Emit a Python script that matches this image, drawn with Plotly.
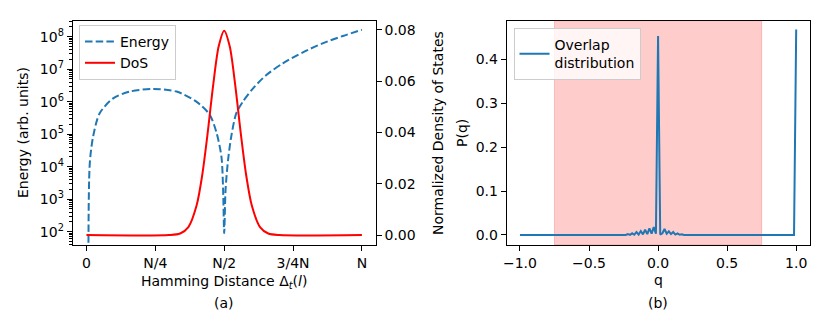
import plotly.graph_objects as go

# ---------------- data: panel (a) ----------------
tick_pos_a = [0, 0.25, 0.5, 0.75, 1.0]
tick_text_a = ["0", "N/4", "N/2", "3/4N", "N"]

energy_x = [0.007, 0.012, 0.024, 0.048, 0.097, 0.157, 0.242, 0.327, 0.399, 0.447,
            0.472, 0.490, 0.496, 0.500, 0.505, 0.514, 0.526, 0.544, 0.568, 0.605,
            0.653, 0.713, 0.786, 0.859, 0.931, 1.000]
energy_y = [1.0e1, 1.26e4, 8.3e4, 4.4e5, 1.26e6, 2.04e6, 2.45e6, 2.04e6, 1.0e6, 4.0e5,
            1.12e5, 2.0e4, 2.0e3, 9.0e1, 2.0e3, 1.6e4, 8.9e4, 4.4e5, 1.0e6, 2.57e6,
            6.6e6, 1.51e7, 3.3e7, 6.3e7, 1.05e8, 1.62e8]

dos_x = [0.0, 0.30, 0.34, 0.37, 0.40, 0.42, 0.44, 0.46, 0.48, 0.50,
         0.52, 0.54, 0.56, 0.58, 0.60, 0.63, 0.66, 0.70, 1.0]
dos_y = [0.0, 0.0, 0.0006, 0.0031, 0.0116, 0.0232, 0.0398, 0.0585, 0.0736, 0.0797,
         0.0736, 0.0585, 0.0398, 0.0232, 0.0116, 0.0031, 0.0006, 0.0, 0.0]

energy_ticks = [1e2, 1e3, 1e4, 1e5, 1e6, 1e7, 1e8]
energy_tick_text = ["10<sup>2</sup>", "10<sup>3</sup>", "10<sup>4</sup>", "10<sup>5</sup>",
                    "10<sup>6</sup>", "10<sup>7</sup>", "10<sup>8</sup>"]
dos_ticks = [0.0, 0.02, 0.04, 0.06, 0.08]
dos_tick_text = ["0.00", "0.02", "0.04", "0.06", "0.08"]

# ---------------- data: panel (b) ----------------
q_vals = [-1.0, -0.2656, -0.25, -0.2344, -0.2188, -0.2031, -0.1875, -0.1719, -0.1563,
          -0.1406, -0.125, -0.1094, -0.0938, -0.0781, -0.0625, -0.0469, -0.0313, -0.0156,
          0.0, 0.0156, 0.0313, 0.0469, 0.0625, 0.0781, 0.0938, 0.1094, 0.125, 0.1406,
          0.1563, 0.1719, 0.1875, 0.2031, 0.2188, 0.9844, 1.0]
p_vals = [0.0, 0.0, 0.0008, 0.0, 0.0022, 0.0003, 0.0038, 0.0006, 0.0068,
          0.001, 0.009, 0.0015, 0.012, 0.002, 0.015, 0.003, 0.018, 0.003,
          0.453, 0.001, 0.004, 0.0137, 0.003, 0.0084, 0.002, 0.0068, 0.001, 0.0038,
          0.0005, 0.0018, 0.0, 0.0006, 0.0, 0.0, 0.468]
shade_range = [-0.75, 0.75]
q_ticks = [-1.0, -0.5, 0.0, 0.5, 1.0]
q_tick_text = ["\u22121.0", "\u22120.5", "0.0", "0.5", "1.0"]
p_ticks = [0.0, 0.1, 0.2, 0.3, 0.4]
p_tick_text = ["0.0", "0.1", "0.2", "0.3", "0.4"]

# ---------------- layout constants ----------------
W, H = 830, 322
FONT = "DejaVu Sans"
FS = 14
BLUE = "#1f77b4"

def px_x(p):
    return p / W

def px_y(p):
    return 1 - p / H

fig = go.Figure()

fig.add_trace(go.Scatter(
    x=energy_x, y=energy_y, mode="lines", name="Energy",
    line=dict(color=BLUE, width=2, dash="7.5px,3.2px", shape="spline", smoothing=0.8),
    xaxis="x", yaxis="y", legend="legend"))
fig.add_trace(go.Scatter(
    x=dos_x, y=dos_y, mode="lines", name="DoS",
    line=dict(color="red", width=2, shape="spline", smoothing=0.8),
    xaxis="x", yaxis="y2", legend="legend"))
fig.add_trace(go.Scatter(
    x=q_vals, y=p_vals, mode="lines", name="Overlap<br>distribution",
    line=dict(color=BLUE, width=2),
    xaxis="x2", yaxis="y3", legend="legend2"))

axis_common = dict(showline=True, linecolor="black", linewidth=1, ticks="outside",
                   ticklen=5, tickwidth=1, tickcolor="black", showgrid=False,
                   zeroline=False, automargin=False,
                   tickfont=dict(family=FONT, size=FS, color="black"))

minor_vals = [m * 10 ** k for k in range(1, 9) for m in range(2, 10)]

fig.update_layout(
    width=W, height=H,
    margin=dict(l=0, r=0, t=0, b=0, autoexpand=False),
    paper_bgcolor="white", plot_bgcolor="white",
    font=dict(family=FONT, size=FS, color="black"),
    xaxis=dict(domain=[px_x(72.7), px_x(375.7)], anchor="y", range=[-0.05, 1.05],
               tickmode="array", tickvals=tick_pos_a, ticktext=tick_text_a,
               mirror=True, **axis_common),
    yaxis=dict(domain=[px_y(245), px_y(20.7)], anchor="x", type="log",
               range=[1.59, 8.49], tickmode="array", tickvals=energy_ticks,
               ticktext=energy_tick_text, mirror=True,
               minor=dict(tickmode="array", tickvals=minor_vals, ticks="outside",
                          ticklen=2.5, tickwidth=0.8, tickcolor="black", showgrid=False),
               **axis_common),
    yaxis2=dict(overlaying="y", side="right", anchor="x", range=[-0.0039, 0.0836],
                tickmode="array", tickvals=dos_ticks, ticktext=dos_tick_text,
                **axis_common),
    xaxis2=dict(domain=[px_x(506.7), px_x(810)], anchor="y3", range=[-1.096, 1.1],
                tickmode="array", tickvals=q_ticks, ticktext=q_tick_text,
                mirror=True, **axis_common),
    yaxis3=dict(domain=[px_y(245), px_y(20.7)], anchor="x2", range=[-0.0228, 0.488],
                tickmode="array", tickvals=p_ticks, ticktext=p_tick_text,
                mirror=True, **axis_common),
    legend=dict(x=px_x(79), y=px_y(25), xanchor="left", yanchor="top",
                bgcolor="rgba(255,255,255,0.8)", bordercolor="#cccccc", borderwidth=1,
                font=dict(family=FONT, size=FS), itemwidth=30, tracegroupgap=0),
    legend2=dict(x=px_x(513.5), y=px_y(28), xanchor="left", yanchor="top",
                 bgcolor="rgba(255,255,255,0.8)", bordercolor="#cccccc", borderwidth=1,
                 font=dict(family=FONT, size=FS), itemwidth=30),
    showlegend=True,
)

fig.add_shape(type="rect", xref="x2", yref="y3 domain", x0=shade_range[0], x1=shade_range[1],
              y0=0, y1=1, fillcolor="rgba(255,0,0,0.2)",
              line=dict(color="rgba(255,0,0,0.2)", width=1), layer="below")

annots = [
    dict(text="Hamming Distance \u0394<sub><i>t</i></sub>(<i>l</i>)", x=px_x(224), y=px_y(282)),
    dict(text="(a)", x=px_x(224), y=px_y(303)),
    dict(text="q", x=px_x(658), y=px_y(280)),
    dict(text="(b)", x=px_x(658), y=px_y(303)),
    dict(text="Energy (arb. units)", x=px_x(23), y=px_y(133), textangle=-90),
    dict(text="Normalized Density of States", x=px_x(438), y=px_y(133), textangle=-90),
    dict(text="P(q)", x=px_x(462), y=px_y(133), textangle=-90),
]
for a in annots:
    fig.add_annotation(xref="paper", yref="paper", showarrow=False,
                       xanchor="center", yanchor="middle",
                       font=dict(family=FONT, size=FS, color="black"), **a)

fig.write_html(
    "out.html",
    config={"displayModeBar": False},
    post_script="document.body.style.margin='0';document.body.style.padding='0';"
                "document.body.style.overflow='hidden';",
)
